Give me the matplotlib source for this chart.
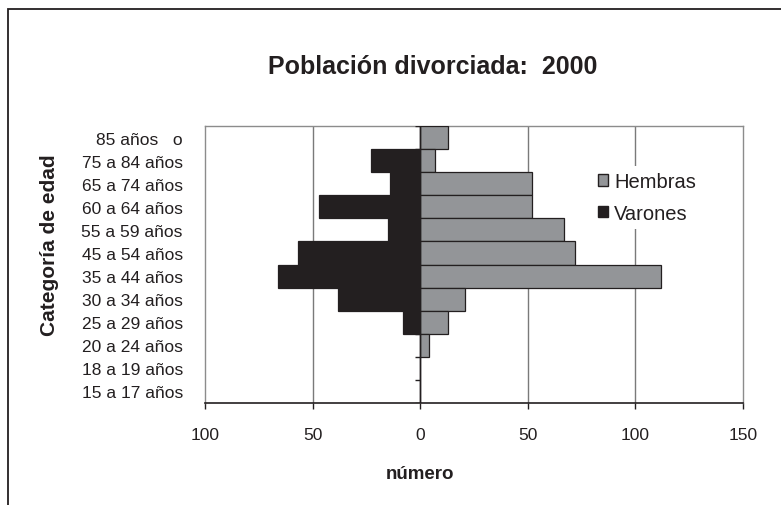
import numpy as np
import matplotlib
matplotlib.use("Agg")
import matplotlib.pyplot as plt
from matplotlib.patches import Rectangle, Patch
from matplotlib.ticker import FuncFormatter

plt.rcParams['font.family'] = ['Liberation Sans', 'DejaVu Sans']

categorias = ["85 años   o", "75 a 84 años", "65 a 74 años", "60 a 64 años",
              "55 a 59 años", "45 a 54 años", "35 a 44 años", "30 a 34 años",
              "25 a 29 años", "20 a 24 años", "18 a 19 años", "15 a 17 años"]
hembras = [13, 7, 52, 52, 67, 72, 112, 21, 13, 4, 0, 0]
varones = [0, 23, 14, 47, 15, 57, 66, 38, 8, 0, 0, 0]
x_ticks = [-100, -50, 0, 50, 100, 150]

W, H = 781, 506
fig = plt.figure(figsize=(W / 100, H / 100), dpi=100)
ax = fig.add_axes([205 / W, 1 - 404 / H, (743 - 205) / W, (404 - 127) / H])

y = np.arange(len(categorias))
ax.barh(y, hembras, height=1.0, color='#939598', edgecolor='#231f20', linewidth=0.9, label='Hembras', zorder=3)
ax.barh(y, [-v for v in varones], height=1.0, color='#231f20', edgecolor='#231f20', linewidth=0.9, label='Varones', zorder=3)

ax.set_xlim(-100, 150)
ax.set_ylim(len(categorias) - 0.5, -0.5)

# grid lines and the category axis crossing at 0
for xv in x_ticks[1:-1]:
    if xv != 0:
        ax.axvline(xv, color='#7a7a7a', linewidth=1.0, zorder=1)
ax.axvline(0, color='#231f20', linewidth=1.0, zorder=4)
ax.hlines(np.arange(len(categorias) + 1) - 0.5, -2.2, 0, color='#231f20', linewidth=1.0, zorder=4)

for side in ['top', 'right', 'left']:
    ax.spines[side].set_color('#8c8c8c')
    ax.spines[side].set_linewidth(1.0)
ax.spines['bottom'].set_color('#231f20')
ax.spines['bottom'].set_linewidth(1.2)

ax.set_xticks(x_ticks)
ax.xaxis.set_major_formatter(FuncFormatter(lambda v, p: f"{abs(int(v))}"))
ax.tick_params(axis='x', direction='out', length=4, width=1.0, color='#231f20',
               labelsize=12.5, pad=13, labelcolor='#231f20')
ax.set_yticks(y)
ax.set_yticklabels(categorias)
ax.tick_params(axis='y', length=0, labelsize=12.5, pad=16, labelcolor='#231f20')

leg = ax.legend(handles=[Patch(facecolor='#939598', edgecolor='#231f20', label='Hembras'),
                         Patch(facecolor='#231f20', edgecolor='#231f20', label='Varones')],
                loc='upper left', bbox_to_anchor=((582 - 205) / (743 - 205), 1 - (157 - 127) / (404 - 127)),
                frameon=True, fancybox=False, edgecolor='none', facecolor='white', framealpha=1,
                fontsize=14.5, handlelength=0.5, handleheight=0.5, handletextpad=0.3,
                labelspacing=0.62, borderpad=0.3, labelcolor='#231f20')
leg.set_zorder(5)

fig.text(433 / W, 1 - 67 / H, "Población divorciada:  2000", ha='center', va='center',
         fontsize=18, fontweight='bold', color='#231f20')
fig.text(420 / W, 1 - 475 / H, "número", ha='center', va='center',
         fontsize=13.5, fontweight='bold', color='#231f20')
fig.text(50 / W, 1 - 245 / H, "Categoría de edad", ha='center', va='center', rotation=90,
         fontsize=15, fontweight='bold', color='#231f20')

fig.patches.append(Rectangle((8 / W, -0.1), 1.2, 1.1 - 10 / H, transform=fig.transFigure,
                             fill=False, edgecolor='#231f20', linewidth=1.3))

fig.savefig("out.png", dpi=100)
